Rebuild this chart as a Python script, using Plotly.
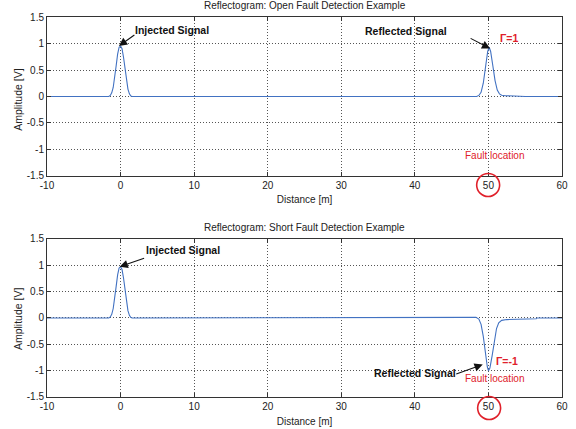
import plotly.graph_objects as go

# ---------------- data ----------------
open_x = [-10, -1.6, -1.4, -1.2, -1.0, -0.8, -0.6, -0.4, -0.2, 0.0, 0.2, 0.4, 0.6, 0.8, 1.0, 1.2, 1.4, 1.6,
          48.4, 48.7, 49.0, 49.3, 49.6, 49.9, 50.1, 50.3, 50.6, 50.9, 51.2, 51.5, 51.8, 52.3, 53.5, 54.5, 55.0, 60]
open_y = [0, 0, 0.02, 0.07, 0.17, 0.35, 0.58, 0.80, 0.93, 0.95, 0.90, 0.74, 0.52, 0.30, 0.14, 0.05, 0.01, 0,
          0, 0.02, 0.08, 0.25, 0.55, 0.85, 0.93, 0.85, 0.58, 0.30, 0.12, 0.05, 0.025, 0.015, 0.008, 0.003, 0, 0]

short_x = [-10, -1.6, -1.4, -1.2, -1.0, -0.8, -0.6, -0.4, -0.2, 0.0, 0.2, 0.4, 0.6, 0.8, 1.0, 1.2, 1.4, 1.6,
           47.0, 48.3, 48.7, 49.0, 49.3, 49.6, 49.85, 50.0, 50.2, 50.5, 50.8, 51.1, 51.4, 51.8, 52.5, 54.0, 56.5, 56.6, 60]
short_y = [0, 0, 0.02, 0.07, 0.18, 0.36, 0.60, 0.82, 0.95, 0.97, 0.92, 0.76, 0.53, 0.31, 0.14, 0.05, 0.01, 0,
           0.01, 0.012, -0.02, -0.12, -0.35, -0.68, -0.93, -1.0, -0.95, -0.72, -0.42, -0.20, -0.09, -0.045, -0.03, -0.02, -0.015, 0, 0]

x_ticks = [-10, 0, 10, 20, 30, 40, 50, 60]
y_ticks = [-1.5, -1, -0.5, 0, 0.5, 1, 1.5]
y_tick_text = ["-1.5", "-1", "-0.5", "0", "0.5", "1", "1.5"]

titles = ["Reflectogram: Open Fault Detection Example", "Reflectogram: Short Fault Detection Example"]
x_title = "Distance [m]"
y_title = "Amplitude [V]"

# ---------------- figure ----------------
LINE = "#4272c2"
FONT = "Liberation Sans, Arial, sans-serif"
RED = "#e0202a"
TXT = "#222222"

fig = go.Figure()
fig.add_trace(go.Scatter(x=open_x, y=open_y, mode="lines", line=dict(color=LINE, width=1.1),
                         xaxis="x", yaxis="y", showlegend=False, hoverinfo="skip"))
fig.add_trace(go.Scatter(x=short_x, y=short_y, mode="lines", line=dict(color=LINE, width=1.1),
                         xaxis="x2", yaxis="y2", showlegend=False, hoverinfo="skip"))

axis_common = dict(showline=True, linecolor="#333333", linewidth=1, mirror="ticks",
                   ticks="inside", ticklen=4, tickcolor="#333333", automargin=False,
                   showgrid=True, gridcolor="#555555", griddash="1px,2px", gridwidth=1,
                   zeroline=False, tickfont=dict(family=FONT, size=10, color=TXT))

xa = dict(axis_common, range=[-10, 60], tickvals=x_ticks, ticktext=[str(v) for v in x_ticks],
          title=dict(text=x_title, font=dict(family=FONT, size=10, color=TXT), standoff=6))
ya = dict(axis_common, range=[-1.5, 1.5], tickvals=y_ticks, ticktext=y_tick_text)

top_dom = [0.5816, 1.0]
bot_dom = [0.0, 0.4158]

fig.update_layout(
    width=576, height=429,
    margin=dict(l=47, r=14, t=17, b=32),
    paper_bgcolor="white", plot_bgcolor="white",
    xaxis=dict(xa, anchor="y", domain=[0, 1]),
    yaxis=dict(ya, anchor="x", domain=top_dom),
    xaxis2=dict(xa, anchor="y2", domain=[0, 1]),
    yaxis2=dict(ya, anchor="x2", domain=bot_dom),
)

ann = []
# subplot titles
ann.append(dict(text=titles[0], x=0.5, y=1.029, xref="paper", yref="paper", showarrow=False,
                xanchor="center", yanchor="middle", font=dict(family=FONT, size=10, color=TXT)))
ann.append(dict(text=titles[1], x=0.5, y=0.447, xref="paper", yref="paper", showarrow=False,
                xanchor="center", yanchor="middle", font=dict(family=FONT, size=10, color=TXT)))
# y-axis titles
for yc in (0.782, 0.205):
    ann.append(dict(text=y_title, x=-0.0563, y=yc, xref="paper", yref="paper", showarrow=False,
                    textangle=-90, xanchor="center", yanchor="middle",
                    font=dict(family=FONT, size=10.5, color=TXT)))

def label(text, x, y, xr, yr, color="#111111", bold=True):
    t = "<b>%s</b>" % text if bold else text
    return dict(text=t, x=x, y=y, xref=xr, yref=yr, showarrow=False, xanchor="center", yanchor="middle",
                font=dict(family=FONT, size=10.5 if bold else 10, color=color))

def arrow(x, y, ax, ay, xr, yr):
    return dict(text="", x=x, y=y, xref=xr, yref=yr, ax=ax, ay=ay, showarrow=True,
                arrowhead=2, arrowsize=1.5, arrowwidth=1.1, arrowcolor="#111111", standoff=0)

# top panel
ann.append(label("Injected Signal", 7.0, 1.26, "x", "y"))
ann.append(arrow(-0.23, 0.954, 17, -12, "x", "y"))
ann.append(label("Reflected Signal", 38.75, 1.236, "x", "y"))
ann.append(arrow(50.23, 0.904, -21, -11, "x", "y"))
ann.append(label("\u0393=1", 52.83, 1.105, "x", "y", color=RED))
ann.append(label("Fault location", 50.83, -1.105, "x", "y", color=RED, bold=False))

# bottom panel
ann.append(label("Injected Signal", 8.49, 1.29, "x2", "y2"))
ann.append(arrow(-0.13, 0.972, 26, -9, "x2", "y2"))
ann.append(label("Reflected Signal", 39.96, -1.042, "x2", "y2"))
ann.append(arrow(49.23, -0.883, -28, 10, "x2", "y2"))
ann.append(label("\u0393=-1", 52.58, -0.807, "x2", "y2", color=RED))
ann.append(label("Fault location", 50.83, -1.15, "x2", "y2", color=RED, bold=False))

fig.update_layout(annotations=ann)

# red circles round the "50" tick labels
fig.add_shape(type="circle", xref="paper", yref="paper", x0=0.8343, x1=0.8789, y0=0.5276, y1=0.5882,
              line=dict(color=RED, width=1.6))
fig.add_shape(type="circle", xref="paper", yref="paper", x0=0.8362, x1=0.8808, y0=-0.0592, y1=0.0013,
              line=dict(color=RED, width=1.6))

fig.write_html("out.html", config={"displayModeBar": False},
               post_script="document.body.style.margin='0';")
